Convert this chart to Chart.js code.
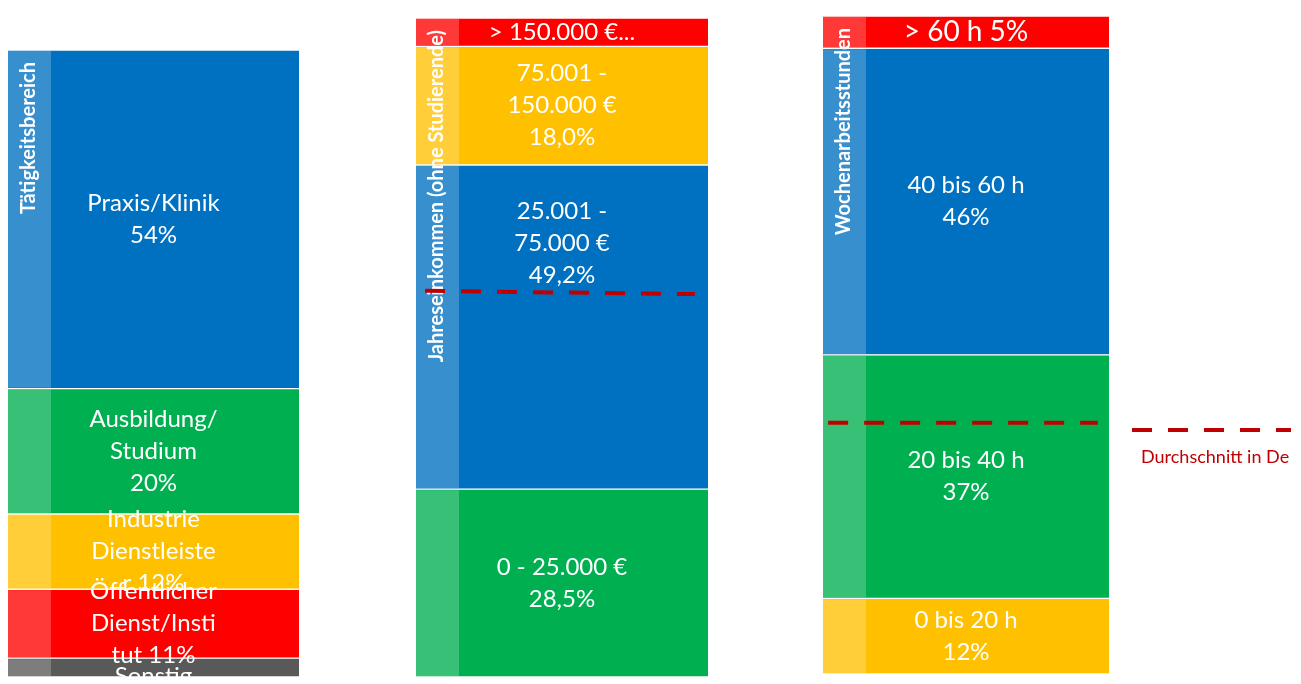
<!DOCTYPE html>
<html><head><meta charset="utf-8">
<script src="https://cdn.jsdelivr.net/npm/chart.js@4.4.1/dist/chart.umd.min.js"></script>
<style>
html,body{margin:0;padding:0;background:#fff;overflow:hidden;}
#wrap{position:relative;width:1301px;height:684px;}
canvas{position:absolute;left:0;top:0;}
</style></head><body>
<div id="wrap">
<canvas id="c1" width="1301" height="684"></canvas>
<canvas id="c2" width="1301" height="684"></canvas>
<canvas id="c3" width="1301" height="684"></canvas>
</div>
<script>
// ---- data (stack order: first = bottom) ----
const titles = ["Tätigkeitsbereich", "Jahreseinkommen (ohne Studierende)", "Wochenarbeitsstunden"];

const actLabels = ["Sonstig", "Öffentlicher\nDienst/Insti\ntut 11%", "Industrie\nDienstleiste\nr 12%", "Ausbildung/\nStudium\n20%", "Praxis/Klinik\n54%"];
const actValues = [3, 11, 12, 20, 54];

const incLabels = ["0 - 25.000 €\n28,5%", "25.001 -\n75.000 €\n49,2%", "75.001 -\n150.000 €\n18,0%", "> 150.000 €..."];
const incValues = [28.5, 49.2, 18.0, 4.3];
const incAvg = [58.6, 58.1];

const hrsLabels = ["0 bis 20 h\n12%", "20 bis 40 h\n37%", "40 bis 60 h\n46%", "> 60 h 5%"];
const hrsValues = [11.5, 37.0, 46.6, 4.9];
const hrsAvg = [38.2, 38.2];

const legendText = "Durchschnitt in De";

// ---- styles ----
const C = {blue:'#0070C0', green:'#00B050', yellow:'#FFC000', red:'#FF0000', gray:'#595959', avg:'#C00000'};
const FONT = 'Lato, "Open Sans", sans-serif';

const deco = {
  id: 'deco',
  beforeDraw(chart){ chart.$striped = false; },
  beforeDatasetDraw(chart, args, opts){
    if (args.meta.type === 'line' && !chart.$striped) drawStripes(chart, opts);
  },
  afterDatasetsDraw(chart, args, opts){
    if (!chart.$striped) drawStripes(chart, opts);
    drawLabels(chart, opts);
    if (opts.legend) drawLegend(chart, opts);
  }
};

function drawStripes(chart, opts){
  chart.$striped = true;
  const ctx = chart.ctx, area = chart.chartArea;
  ctx.save();
  chart.data.datasets.forEach((ds, i) => {
    const meta = chart.getDatasetMeta(i);
    if (meta.type !== 'bar') return;
    meta.data.forEach(el => {
      const left = el.x - el.width / 2;
      const top = Math.min(el.y, el.base) + 1;
      const bot = Math.max(el.y, el.base) - 1;
      ctx.fillStyle = 'rgba(255,255,255,0.22)';
      ctx.fillRect(left, top, opts.stripe, bot - top);
    });
  });
  ctx.translate(area.left + opts.stripe / 2 - 1, area.top + 12);
  ctx.rotate(-Math.PI / 2);
  ctx.font = 'bold 20px ' + FONT;
  ctx.fillStyle = '#fff';
  ctx.textAlign = 'right';
  ctx.textBaseline = 'middle';
  ctx.fillText(opts.title, 0, 0);
  ctx.restore();
}

function drawLabels(chart, opts){
  const ctx = chart.ctx, area = chart.chartArea;
  ctx.save();
  ctx.beginPath();
  ctx.rect(0, 0, chart.width, area.bottom + 4);
  ctx.clip();
  ctx.fillStyle = '#fff';
  ctx.textAlign = 'center';
  ctx.textBaseline = 'middle';
  chart.data.datasets.forEach((ds, i) => {
    const meta = chart.getDatasetMeta(i);
    if (meta.type !== 'bar') return;
    const el = meta.data[0];
    const lines = ds.label.split('\n');
    const lh = 32;
    const cy = (el.y + el.base) / 2 + (ds.labelOffset || 0);
    ctx.font = (ds.labelSize || 24) + 'px ' + FONT;
    lines.forEach((t, k) => {
      ctx.fillText(t, el.x, cy + (k - (lines.length - 1) / 2) * lh);
    });
  });
  ctx.restore();
}

function drawLegend(chart, opts){
  const ctx = chart.ctx, area = chart.chartArea;
  ctx.save();
  ctx.strokeStyle = C.avg;
  ctx.lineWidth = 4;
  ctx.setLineDash([20, 16]);
  ctx.beginPath();
  ctx.moveTo(area.right + 23, 430);
  ctx.lineTo(area.right + 182, 430);
  ctx.stroke();
  ctx.setLineDash([]);
  ctx.fillStyle = C.avg;
  ctx.font = '18px ' + FONT;
  ctx.textAlign = 'left';
  ctx.textBaseline = 'middle';
  ctx.fillText(opts.legend, area.right + 32, 457);
  ctx.restore();
}

function makeChart(id, title, labels, values, colors, pad, avg, avgX, extra, legend){
  const datasets = labels.map((l, i) => Object.assign({
    type: 'bar', label: l, data: [values[i]], backgroundColor: colors[i],
    stack: 'S', grouped: false,
    borderColor: '#fff', borderWidth: {top: 1, bottom: 1, left: 0, right: 0},
    borderSkipped: false, barPercentage: 1, categoryPercentage: 1, order: 1
  }, (extra && extra[i]) || {}));
  const scales = {
    x: {display: false, stacked: true, grid: {display: false}, min: 0, max: 0, offset: true},
    y: {display: false, stacked: true, min: 0, max: 100}
  };
  if (avg) {
    scales.x2 = {type: 'linear', display: false, min: 0, max: 1, offset: false, grid: {offset: false}};
    datasets.push({
      type: 'line', label: 'avg', xAxisID: 'x2', order: 0,
      data: avg.map((v, i) => ({x: avgX[i], y: v})),
      borderColor: C.avg, borderWidth: 4, borderDash: [20, 16],
      pointRadius: 0, fill: false, tension: 0
    });
  }
  return new Chart(document.getElementById(id), {
    type: 'bar',
    data: {labels: [title], datasets},
    options: {
      responsive: false, animation: false, devicePixelRatio: 1,
      layout: {padding: pad},
      scales,
      plugins: {legend: {display: false}, tooltip: {enabled: false},
        deco: {title, stripe: 43, legend}}
    },
    plugins: [deco]
  });
}

makeChart('c1', titles[0], actLabels, actValues,
  [C.gray, C.red, C.yellow, C.green, C.blue],
  {left: 8, right: 1002, top: 50, bottom: 7}, null, null,
  [{labelOffset: 9}], null);

makeChart('c2', titles[1], incLabels, incValues,
  [C.green, C.blue, C.yellow, C.red],
  {left: 416, right: 593, top: 18, bottom: 7}, incAvg, [0.031, 0.955],
  [null, {labelOffset: -84}], null);

makeChart('c3', titles[2], hrsLabels, hrsValues,
  [C.yellow, C.green, C.blue, C.red],
  {left: 823, right: 192, top: 16, bottom: 10}, hrsAvg, [0.018, 0.961],
  [null, null, null, {labelSize: 28}], legendText);
</script>
</body></html>
